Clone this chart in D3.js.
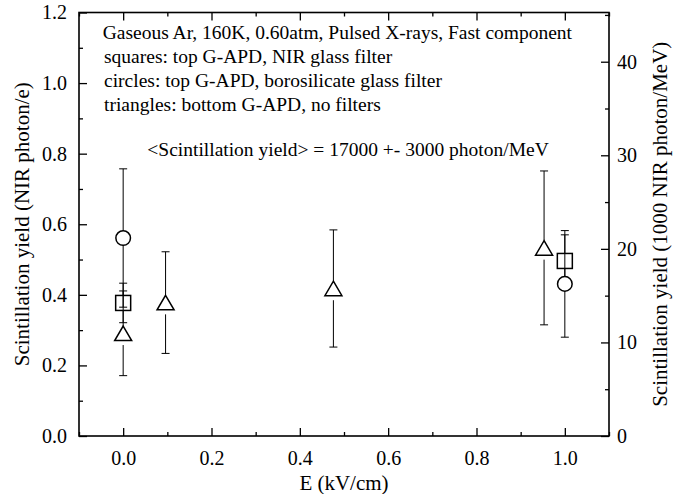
<!DOCTYPE html>
<html>
<head>
<meta charset="utf-8">
<script src="https://cdn.jsdelivr.net/npm/d3@7"></script>
<style>
  body { margin: 0; background: #fff; }
  svg text { font-family: "Liberation Serif"; }
</style>
</head>
<body>
<div id="chart"></div>
<script>
// data
const sqE = [0, 1.0];
const sqY = [0.377, 0.496];
const sqErr = [0.056, 0.074];

const ciE = [0, 1.0];
const ciY = [0.561, 0.431];
const ciErr = [0.196, 0.151];

const trE = [0, 0.096, 0.476, 0.953];
const trY = [0.291, 0.378, 0.418, 0.533];
const trErr = [0.12, 0.144, 0.166, 0.218];

const xTicks = [0, 0.2, 0.4, 0.6, 0.8, 1.0];
const xMinor = [-0.1, 0.1, 0.3, 0.5, 0.7, 0.9, 1.1];
const yTicks = [0, 0.2, 0.4, 0.6, 0.8, 1.0, 1.2];
const yMinor = [0.1, 0.3, 0.5, 0.7, 0.9, 1.1];
const yRTicks = [0, 10, 20, 30, 40];
const yRMinor = [5, 15, 25, 35, 45];
const yRMax = 45.26; // right axis top, 1.2 NIR photon/e

const notes = [
  "Gaseous Ar, 160K, 0.60atm, Pulsed X-rays, Fast component",
  "squares: top G-APD, NIR glass filter",
  "circles: top G-APD, borosilicate glass filter",
  "triangles: bottom G-APD, no filters"
];
const meanNote = "<Scintillation yield> = 17000 +- 3000 photon/MeV";

const FONT = "Liberation Serif";
const width = 688, height = 494;
const margin = { left: 79, right: 79, top: 12.5, bottom: 58 };

const svg = d3.select("#chart").append("svg")
  .attr("width", width)
  .attr("height", height)
  .attr("font-family", FONT);

const x = d3.scaleLinear().domain([-0.1, 1.1]).range([margin.left, width - margin.right]);
const y = d3.scaleLinear().domain([0, 1.2]).range([height - margin.bottom, margin.top]);
const yR = d3.scaleLinear().domain([0, yRMax]).range([height - margin.bottom, margin.top]);

const bottom = height - margin.bottom;
const right = width - margin.right;

// axes: ticks point inward
function styleAxis(g) {
  g.attr("font-family", FONT);
  g.select(".domain").remove();
  g.selectAll(".tick line").attr("stroke", "#000").attr("stroke-width", 1.3);
  g.selectAll(".tick text").attr("fill", "#000").style("font-size", "20px");
}

svg.append("g").attr("transform", `translate(0,${bottom})`)
  .call(d3.axisBottom(x).tickValues(xTicks).tickSize(-8).tickSizeOuter(0).tickPadding(15).tickFormat(d3.format(".1f")))
  .call(styleAxis);
svg.append("g").attr("transform", `translate(0,${bottom})`)
  .call(d3.axisBottom(x).tickValues(xMinor).tickSize(-4).tickSizeOuter(0).tickFormat(""))
  .call(styleAxis);
svg.append("g").attr("transform", `translate(0,${margin.top})`)
  .call(d3.axisTop(x).tickValues(xTicks).tickSize(-8).tickSizeOuter(0).tickFormat(""))
  .call(styleAxis);
svg.append("g").attr("transform", `translate(0,${margin.top})`)
  .call(d3.axisTop(x).tickValues(xMinor).tickSize(-4).tickSizeOuter(0).tickFormat(""))
  .call(styleAxis);

svg.append("g").attr("transform", `translate(${margin.left},0)`)
  .call(d3.axisLeft(y).tickValues(yTicks).tickSize(-8).tickSizeOuter(0).tickPadding(12).tickFormat(d3.format(".1f")))
  .call(styleAxis);
svg.append("g").attr("transform", `translate(${margin.left},0)`)
  .call(d3.axisLeft(y).tickValues(yMinor).tickSize(-4).tickSizeOuter(0).tickFormat(""))
  .call(styleAxis);

svg.append("g").attr("transform", `translate(${right},0)`)
  .call(d3.axisRight(yR).tickValues(yRTicks).tickSize(-8).tickSizeOuter(0).tickPadding(8).tickFormat(d3.format("d")))
  .call(styleAxis);
svg.append("g").attr("transform", `translate(${right},0)`)
  .call(d3.axisRight(yR).tickValues(yRMinor).tickSize(-4).tickSizeOuter(0).tickFormat(""))
  .call(styleAxis);

// frame
svg.append("rect")
  .attr("x", margin.left).attr("y", margin.top)
  .attr("width", right - margin.left).attr("height", bottom - margin.top)
  .attr("fill", "none").attr("stroke", "#000").attr("stroke-width", 1.6);

// axis titles
svg.append("text")
  .attr("x", (margin.left + right) / 2).attr("y", 490)
  .attr("text-anchor", "middle").style("font-size", "21px")
  .text("E (kV/cm)");
svg.append("text")
  .attr("transform", `translate(29,${(margin.top + bottom) / 2}) rotate(-90)`)
  .attr("text-anchor", "middle").style("font-size", "21px")
  .text("Scintillation yield (NIR photon/e)");
svg.append("text")
  .attr("transform", `translate(667,${(margin.top + bottom) / 2}) rotate(-90)`)
  .attr("text-anchor", "middle").style("font-size", "21px")
  .text("Scintillation yield (1000 NIR photon/MeV)");

// notes
const noteX = [102.7, 104, 104, 104];
const noteY = [39.3, 63.3, 87.3, 110.7];
svg.selectAll(".note").data(notes).join("text")
  .attr("class", "note")
  .attr("x", (d, i) => noteX[i]).attr("y", (d, i) => noteY[i])
  .style("font-size", "19.5px")
  .text(d => d);
svg.append("text")
  .attr("x", 147.3).attr("y", 156)
  .style("font-size", "19.5px")
  .text(meanNote);

// series
const toPts = (E, Y, Err) => E.map((e, i) => ({ e, v: Y[i], err: Err[i] }));
const squares = toPts(sqE, sqY, sqErr);
const circles = toPts(ciE, ciY, ciErr);
const triangles = toPts(trE, trY, trErr);

const capW = 4;
const plot = svg.append("g");

function errorBars(g, pts, gapBelow, halfH) {
  pts.forEach(d => {
    const cx = x(d.e);
    const top = y(d.v + d.err), bot = y(d.v - d.err), cy = y(d.v);
    const eg = g.append("g").attr("stroke", "#000").attr("stroke-width", 1);
    if (gapBelow) {
      eg.append("line").attr("x1", cx).attr("x2", cx).attr("y1", top).attr("y2", cy - halfH);
      eg.append("line").attr("x1", cx).attr("x2", cx).attr("y1", cy + halfH + gapBelow).attr("y2", bot);
    } else {
      eg.append("line").attr("x1", cx).attr("x2", cx).attr("y1", top).attr("y2", bot);
    }
    eg.append("line").attr("x1", cx - capW).attr("x2", cx + capW).attr("y1", top).attr("y2", top);
    eg.append("line").attr("x1", cx - capW).attr("x2", cx + capW).attr("y1", bot).attr("y2", bot);
  });
}

// squares
const sqG = plot.append("g");
errorBars(sqG, squares, 0, 0);
sqG.selectAll("rect").data(squares).join("rect")
  .attr("x", d => x(d.e) - 7.5).attr("y", d => y(d.v) - 7.5)
  .attr("width", 15).attr("height", 15)
  .attr("fill", "#fff").attr("stroke", "#000").attr("stroke-width", 1.5);

// circles
const ciG = plot.append("g");
errorBars(ciG, circles, 0, 0);
ciG.selectAll("circle").data(circles).join("circle")
  .attr("cx", d => x(d.e)).attr("cy", d => y(d.v)).attr("r", 7.3)
  .attr("fill", "#fff").attr("stroke", "#000").attr("stroke-width", 1.5);

// triangles
const trG = plot.append("g");
const triH = 14.5, triW = 17;
errorBars(trG, triangles, 4.5, triH / 2);
trG.selectAll("path").data(triangles).join("path")
  .attr("d", d => {
    const cx = x(d.e), cy = y(d.v);
    return `M${cx},${cy - triH / 2}L${cx + triW / 2},${cy + triH / 2}L${cx - triW / 2},${cy + triH / 2}Z`;
  })
  .attr("fill", "#fff").attr("stroke", "#000").attr("stroke-width", 1.5)
  .attr("stroke-linejoin", "miter");
</script>
</body>
</html>
